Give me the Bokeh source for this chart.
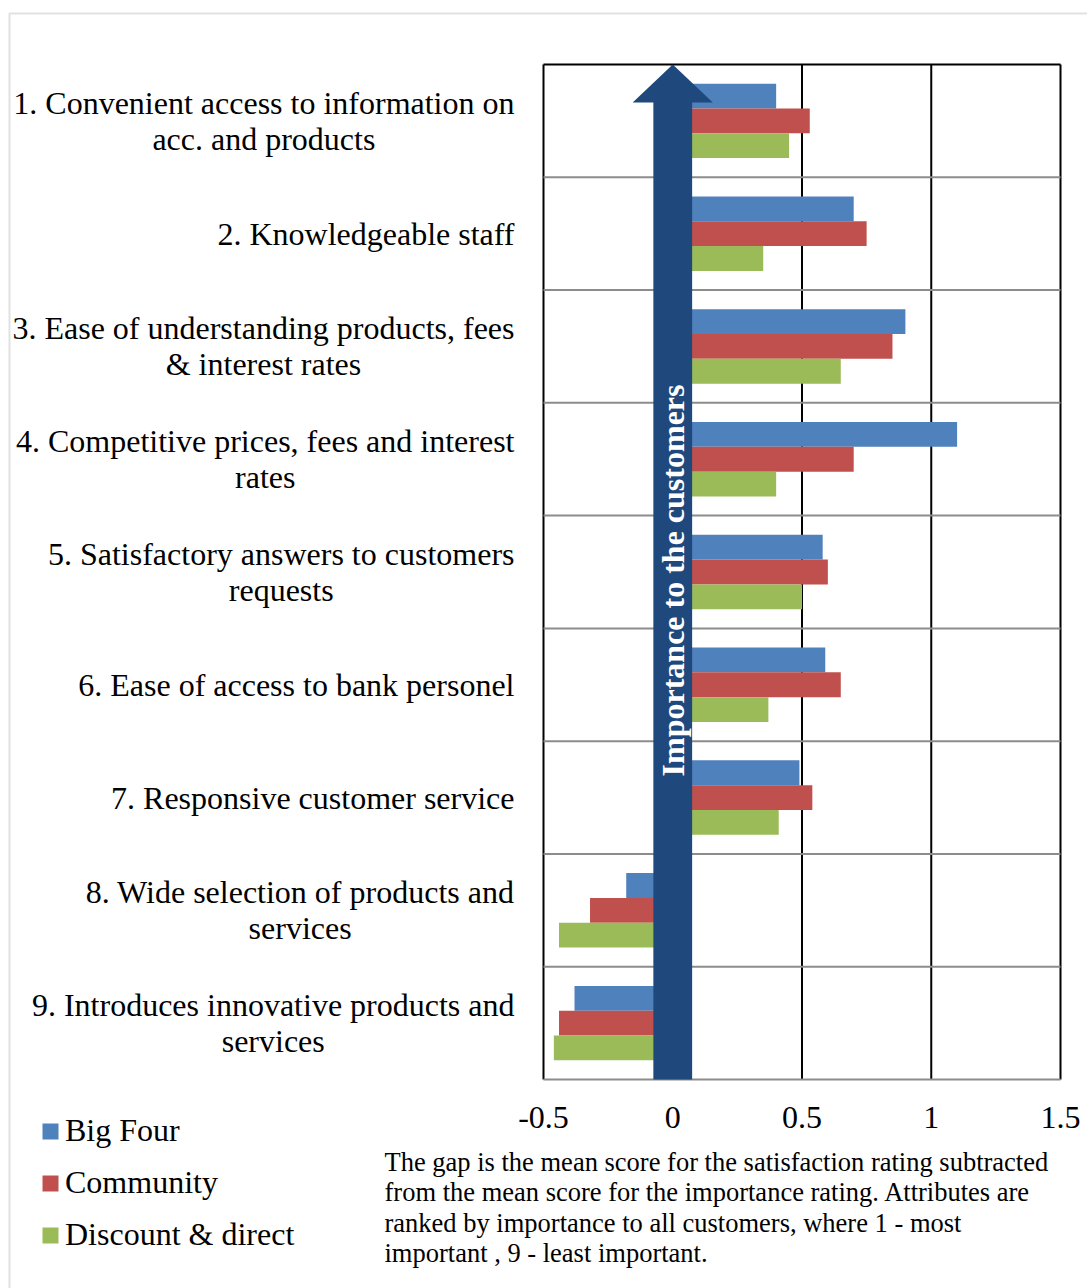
import math
from bokeh.plotting import figure
from bokeh.models import (Label, Legend, LegendItem, BoxAnnotation, ColumnDataSource, Range1d)
from bokeh.core.properties import value
from bokeh.embed import file_html
from bokeh.resources import INLINE
from bokeh.transform import dodge

# ---------------- data ----------------
categories = [
    "1. Convenient access to information on\nacc. and products",
    "2. Knowledgeable staff",
    "3. Ease of understanding products, fees\n& interest rates",
    "4. Competitive prices, fees and interest\nrates",
    "5. Satisfactory answers to customers\nrequests",
    "6. Ease of access to bank personel",
    "7. Responsive customer service",
    "8. Wide selection of products and\nservices",
    "9. Introduces innovative products and\nservices",
]
big_four = [0.40, 0.70, 0.90, 1.10, 0.58, 0.59, 0.49, -0.18, -0.38]
community = [0.53, 0.75, 0.85, 0.70, 0.60, 0.65, 0.54, -0.32, -0.44]
discount = [0.45, 0.35, 0.65, 0.40, 0.50, 0.37, 0.41, -0.44, -0.46]
series_names = ["Big Four", "Community", "Discount & direct"]
x_ticks = [-0.5, 0, 0.5, 1, 1.5]
x_tick_labels = ["-0.5", "0", "0.5", "1", "1.5"]
arrow_text = "Importance to the customers"
caption = ("The gap is the mean score for the satisfaction rating subtracted\n"
           "from the mean score for the importance rating. Attributes are\n"
           "ranked by importance to all customers, where 1 - most\n"
           "important , 9 - least important.")

# ---------------- style / layout ----------------
colors = ["#4F81BD", "#C0504D", "#9BBB59"]
ARROW_COLOR = "#1F497D"
GRID_GRAY = "#8C8C8C"
FONT = "Liberation Serif"

W, H = 1087, 1288                 # canvas size
PLOT_L, PLOT_R = 543, 1060        # plot-area edges on canvas (px)
PLOT_T, PLOT_B = 64, 1079
x_min, x_max = x_ticks[0], x_ticks[-1]
n = len(categories)

x_per = (PLOT_R - PLOT_L) / (x_max - x_min)
y_per = (PLOT_B - PLOT_T) / n
x_range = Range1d(x_min - PLOT_L / x_per, x_max + (W - PLOT_R) / x_per)
y_range = Range1d(0 - (H - PLOT_B) / y_per, n + PLOT_T / y_per)

y_pos = [n - i - 0.5 for i in range(n)]
source = ColumnDataSource(dict(y=y_pos, bf=big_four, cm=community, dd=discount, cat=categories))

p = figure(output_backend="svg", toolbar_location=None, width=W, height=H,
           min_border=0, x_axis_type=None, y_axis_type=None,
           x_range=x_range, y_range=y_range)
p.outline_line_color = None
p.grid.visible = False
p.background_fill_color = "white"
p.border_fill_color = "white"

# grid lines (plot-area)
p.segment(x0=x_ticks, x1=x_ticks, y0=[0] * len(x_ticks), y1=[n] * len(x_ticks),
          line_color="black", line_width=2)
hy = list(range(0, n + 1))
p.segment(x0=[x_min] * len(hy), x1=[x_max] * len(hy), y0=hy, y1=hy,
          line_color=[GRID_GRAY] * n + ["black"], line_width=2)

bar_h = 0.22
r1 = p.hbar(y=dodge("y", bar_h, range=p.y_range), right="bf", left=0, height=bar_h,
            source=source, fill_color=colors[0], line_color=None)
r2 = p.hbar(y=dodge("y", 0, range=p.y_range), right="cm", left=0, height=bar_h,
            source=source, fill_color=colors[1], line_color=None)
r3 = p.hbar(y=dodge("y", -bar_h, range=p.y_range), right="dd", left=0, height=bar_h,
            source=source, fill_color=colors[2], line_color=None)

# arrow (decoration)
s, h, L = 0.075, 0.155, 0.337
p.patch(x=[-s, -s, -h, 0, h, s, s], y=[0, n - L, n - L, n, n - L, n - L, 0],
        fill_color=ARROW_COLOR, line_color=None)
p.add_layout(Label(x=0, y=4.425, text=arrow_text, angle=math.pi / 2,
                   text_align="center", text_baseline="middle",
                   text_color="white", text_font=FONT, text_font_style="bold",
                   text_font_size="32px"))

# category labels (right-anchored block, centred lines)
p.text(x=x_min, y="y", text="cat", source=source, x_offset=-29,
       anchor=value("center_right"), text_align="center", text_baseline="middle",
       text_font=value(FONT), text_font_size="32px", text_line_height=1.0,
       text_color="black")

# x tick labels
p.text(x=x_ticks, y=[0] * len(x_ticks), text=x_tick_labels, y_offset=38,
       text_align="center", text_baseline="middle",
       text_font=value(FONT), text_font_size="32px", text_color="black")

# legend
legend = Legend(items=[LegendItem(label=series_names[0], renderers=[r1]),
                       LegendItem(label=series_names[1], renderers=[r2]),
                       LegendItem(label=series_names[2], renderers=[r3])],
                location=(40, 35), orientation="vertical",
                glyph_width=20, glyph_height=20, label_height=36,
                label_standoff=5, spacing=15,
                padding=0, margin=0, border_line_color=None, background_fill_alpha=0,
                label_text_font=FONT, label_text_font_size="32px",
                label_text_color="black")
p.add_layout(legend, "center")

# caption
p.add_layout(Label(x=384, y=142, x_units="screen", y_units="screen", text=caption,
                   text_align="left", text_baseline="top", text_font=FONT,
                   text_font_size="26.5px", text_line_height=1.02, text_color="black"))

# outer border
p.add_layout(BoxAnnotation(left=9, right=1400, top=H - 13, bottom=-100,
                           left_units="screen", right_units="screen",
                           top_units="screen", bottom_units="screen",
                           fill_color=None, line_color="#9A9A9A", line_width=2))

open("out.html", "w").write(file_html(p, INLINE))
